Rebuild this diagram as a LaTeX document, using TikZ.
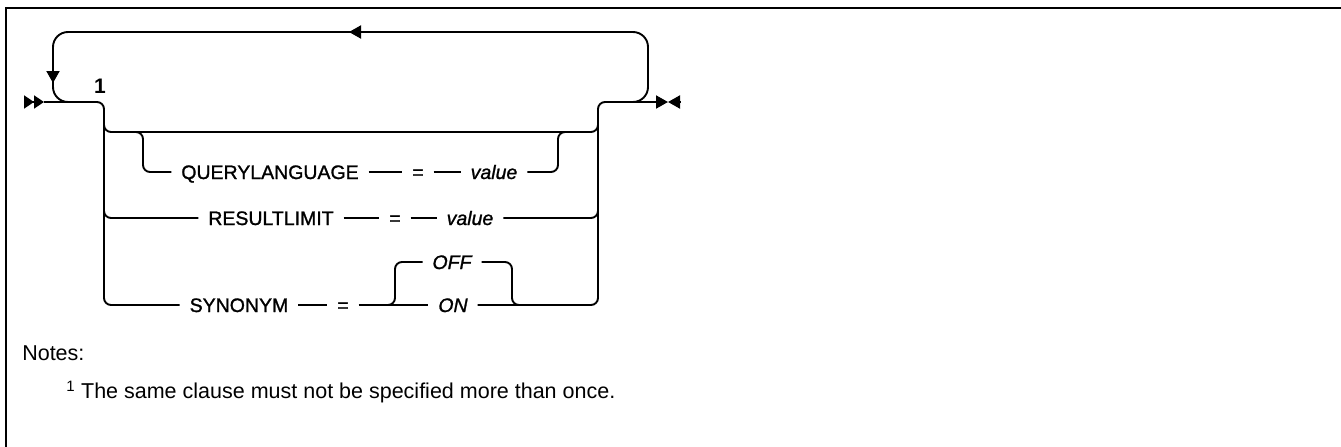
\documentclass[tikz,border=0pt]{standalone}
\usepackage{fontspec}
\setmainfont{Liberation Sans}
\newfontfamily\railfont{Liberation Sans}[FakeBold=1.2]
\usetikzlibrary{arrows.meta}

\begin{document}
\begin{tikzpicture}[x=1pt, y=-1pt, line width=1.9pt,
	kw/.style={inner sep=0pt, outer xsep=10pt, text height=14pt, text depth=0pt, font=\railfont\fontsize{19.5}{22}\selectfont},
	var/.style={kw, font=\railfont\fontsize{19.5}{22}\selectfont\itshape},
	rail/.style={rounded corners=7pt},
	tip/.style={-{Triangle[length=12pt, width=13pt]}}]
		\useasboundingbox (0,0) rectangle (1341,447);
		\draw[line width=2.6pt](6, 447)--(6, 8)--(1341, 8);
		% labels
		\node[font=\bfseries\fontsize{21}{24}\selectfont] (one) at (100, 86) {1};
		\node[kw] (ql) at (270, 172) {QUERYLANGUAGE};
		\node[kw] (qleq) at (418, 172) {=};
		\node[var] (qlval) at (494, 172) {value};
		\node[kw] (rl) at (271, 218) {RESULTLIMIT};
		\node[kw] (rleq) at (395, 218) {=};
		\node[var] (rlval) at (470, 218) {value};
		\node[kw] (syn) at (239, 305) {SYNONYM};
		\node[kw] (syneq) at (343, 305) {=};
		\node[var] (off) at (452, 262) {OFF};
		\node[var] (on) at (453, 305) {ON};
		\coordinate (in) at (24, 102);
		\coordinate (beg) at (44, 102);
		\coordinate (join) at (598, 102);
		\coordinate (fin) at (668, 102);
		\coordinate (out) at (680, 102);
		% main rails
		\draw[-{Triangle[length=10pt, width=13pt]Triangle[length=10pt, width=13pt]}](in)--(beg);
		\draw[rail](beg)-|(104, 305)--(syn.west);
		\draw[rail](104, 118)|-(560, 132)-|(598, 118);
		\draw[rail](125, 132)-|(143, 172)--(ql.west);
		\draw(ql.east)--(qleq.west) (qleq.east)--(qlval.west);
		\draw[rail](qlval.east)-|(558, 132)--(575, 132);
		\draw[rail](104, 200)|-(rl.west);
		\draw(rl.east)--(rleq.west) (rleq.east)--(rlval.west);
		\draw[rail](rlval.east)-|(598, 200);
		\draw(syn.east)--(syneq.west) (syneq.east)--(on.west);
		\draw[rail](375, 305)-|(395, 262)--(off.west);
		\draw[rail](off.east)-|(512, 305)--(530, 305);
		\draw[rail, tip](on.east)-|(join)--(fin);
		\draw[{Triangle[length=12pt, width=13pt]}-](fin)--(out);
		% repeat loop
		\draw[rounded corners=15pt](615, 102)-|(648, 32)-|(53, 102)--(80, 102);
		\draw[tip](380, 32)--(349, 32);
		\draw[tip](53, 60)--(53, 83);
		% notes
		\node[anchor=west, font=\fontsize{21.5}{24}\selectfont] (notes) at (18, 353) {Notes:};
		\node[anchor=west, font=\fontsize{21.5}{24}\selectfont] (note1) at (62, 392) {\textsuperscript{1} The same clause must not be specified more than once.};
	\end{tikzpicture}
\end{document}
